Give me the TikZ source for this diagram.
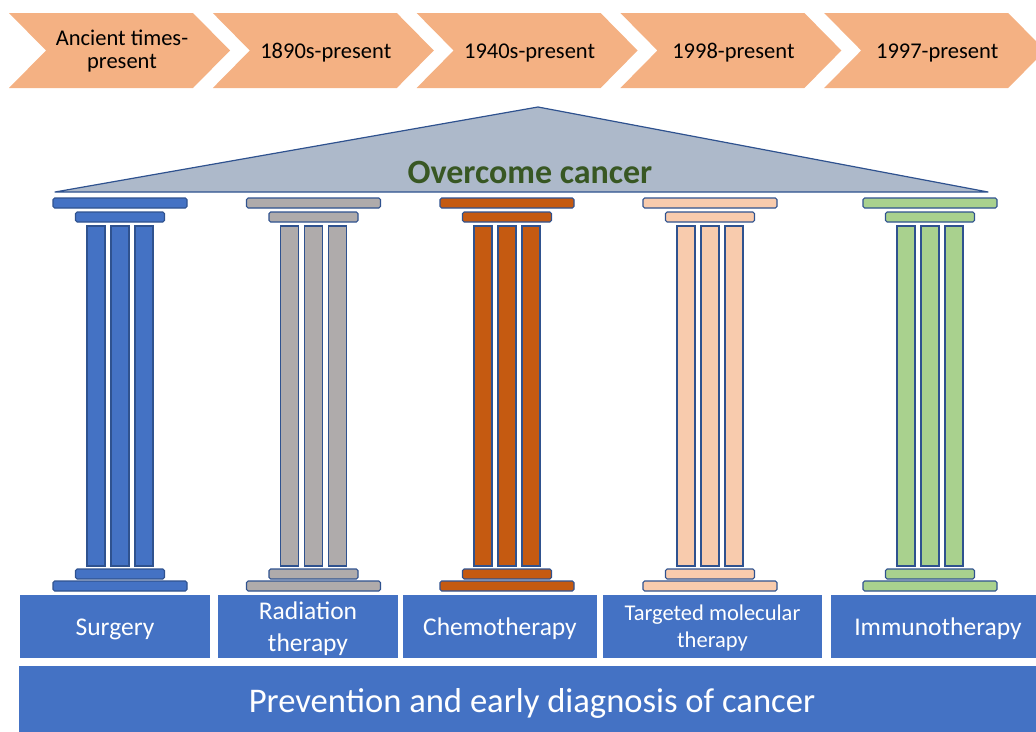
\documentclass[tikz,border=0pt]{standalone}
\usepackage{fontspec}
\setmainfont{Carlito}
\usetikzlibrary{positioning}

\definecolor{erafill}{HTML}{F4B183}
\definecolor{roofgray}{HTML}{ADB9CA}
\definecolor{pline}{HTML}{2F528F}
\definecolor{pblue}{HTML}{4472C4}
\definecolor{pgray}{HTML}{AFABAB}
\definecolor{porange}{HTML}{C55A11}
\definecolor{ppeach}{HTML}{F8CBAD}
\definecolor{pgreen}{HTML}{A9D18E}
\definecolor{goalgreen}{HTML}{385723}

% two centred lines, first baseline on the node's baseline
\newcommand{\twolines}[3]{\raisebox{0pt}[0pt][#1]{\begin{tabular}[t]{@{}c@{}}#2\\#3\end{tabular}}}

\tikzset{
  eratext/.style={inner sep=0pt, font=\fontsize{22.5}{23}\selectfont},
  oneline/.style={text height=#1, text depth=0pt},
  roof/.style={fill=roofgray, draw=pline, line width=1.2pt, line join=round},
  rooftext/.style={text=goalgreen, inner sep=0pt, oneline=22pt,
    font=\fontsize{34}{36}\selectfont\bfseries},
  slab/.style={draw=pline, line width=1.1pt, rounded corners=1.6pt, inner sep=0pt,
    outer sep=0pt, minimum height=10pt},
  shaft/.style={draw=pline, line width=1.1pt, inner sep=0pt, outer sep=0pt,
    minimum width=18pt, minimum height=340pt},
  tbox/.style={fill=pblue, text=white, inner sep=0pt, minimum height=63pt,
    font=\fontsize{25.5}{32}\selectfont},
  basebar/.style={fill=pblue, text=white, inner sep=0pt, minimum width=1026pt,
    minimum height=74pt, oneline=18pt, font=\fontsize{34.6}{38}\selectfont}
}

\begin{document}
\begin{tikzpicture}[x=1pt, y=-1pt]
\useasboundingbox (0,0) rectangle (1036,731);

% time line
\foreach \i/\t in {0/{\twolines{11pt}{Ancient times-}{present}},1/{1890s-present},
                   2/{1940s-present},3/{1998-present},4/{1997-present}}{
  \pgfmathsetmacro{\xa}{9+203.8*\i}
  \fill[erafill] (\xa,13) -- ++(184,0) -- ++(37,37.5) -- ++(-37,37.5) -- ++(-184,0)
    -- ++(37,-37.5) -- cycle;
  \ifnum\i=0
    \node[eratext] (era\i) at (\xa+113,50.5) {\t};
  \else
    \node[eratext, oneline=15pt] (era\i) at (\xa+113,50.5) {\t};
  \fi
}

% roof
\filldraw[roof] (55,192) coordinate (roofL) -- (538,107) coordinate (roofT)
  -- (988,192) coordinate (roofR) -- cycle;
\node[rooftext] (goal) at (530,172) {Overcome cancer};

% pillars
\foreach \n/\c/\x in {1/pblue/120,2/pgray/313.5,3/porange/507,4/ppeach/710,5/pgreen/930}{
  \node[slab, fill=\c, minimum width=134pt] (top\n) at (\x,203) {};
  \node[slab, fill=\c, minimum width=89pt, below=4pt of top\n] (neck\n) {};
  \node[shaft, fill=\c, below=4pt of neck\n] (shaftB\n) {};
  \node[shaft, fill=\c, left=6pt of shaftB\n] (shaftA\n) {};
  \node[shaft, fill=\c, right=6pt of shaftB\n] (shaftC\n) {};
  \node[slab, fill=\c, minimum width=89pt, below=3pt of shaftB\n] (foot\n) {};
  \node[slab, fill=\c, minimum width=134pt, below=2pt of foot\n] (base\n) {};
}

% therapies
\node[tbox, oneline=17pt, minimum width=190pt] (surgery) at (115,626.5) {Surgery};
\node[tbox, minimum width=180pt] (radiation) at (308,626.5)
  {\twolines{15pt}{Radiation}{therapy}};
\node[tbox, oneline=17pt, minimum width=194pt] (chemo) at (500,626.5) {Chemotherapy};
\node[tbox, minimum width=219pt, font=\fontsize{22.5}{27}\selectfont] (targeted)
  at (712.5,626.5) {\twolines{13pt}{Targeted molecular}{therapy}};
\node[tbox, oneline=17pt, minimum width=214pt] (immuno) at (938,626.5) {Immunotherapy};

% foundation
\node[basebar] (prevention) at (532,703) {Prevention and early diagnosis of cancer};
\end{tikzpicture}
\end{document}
